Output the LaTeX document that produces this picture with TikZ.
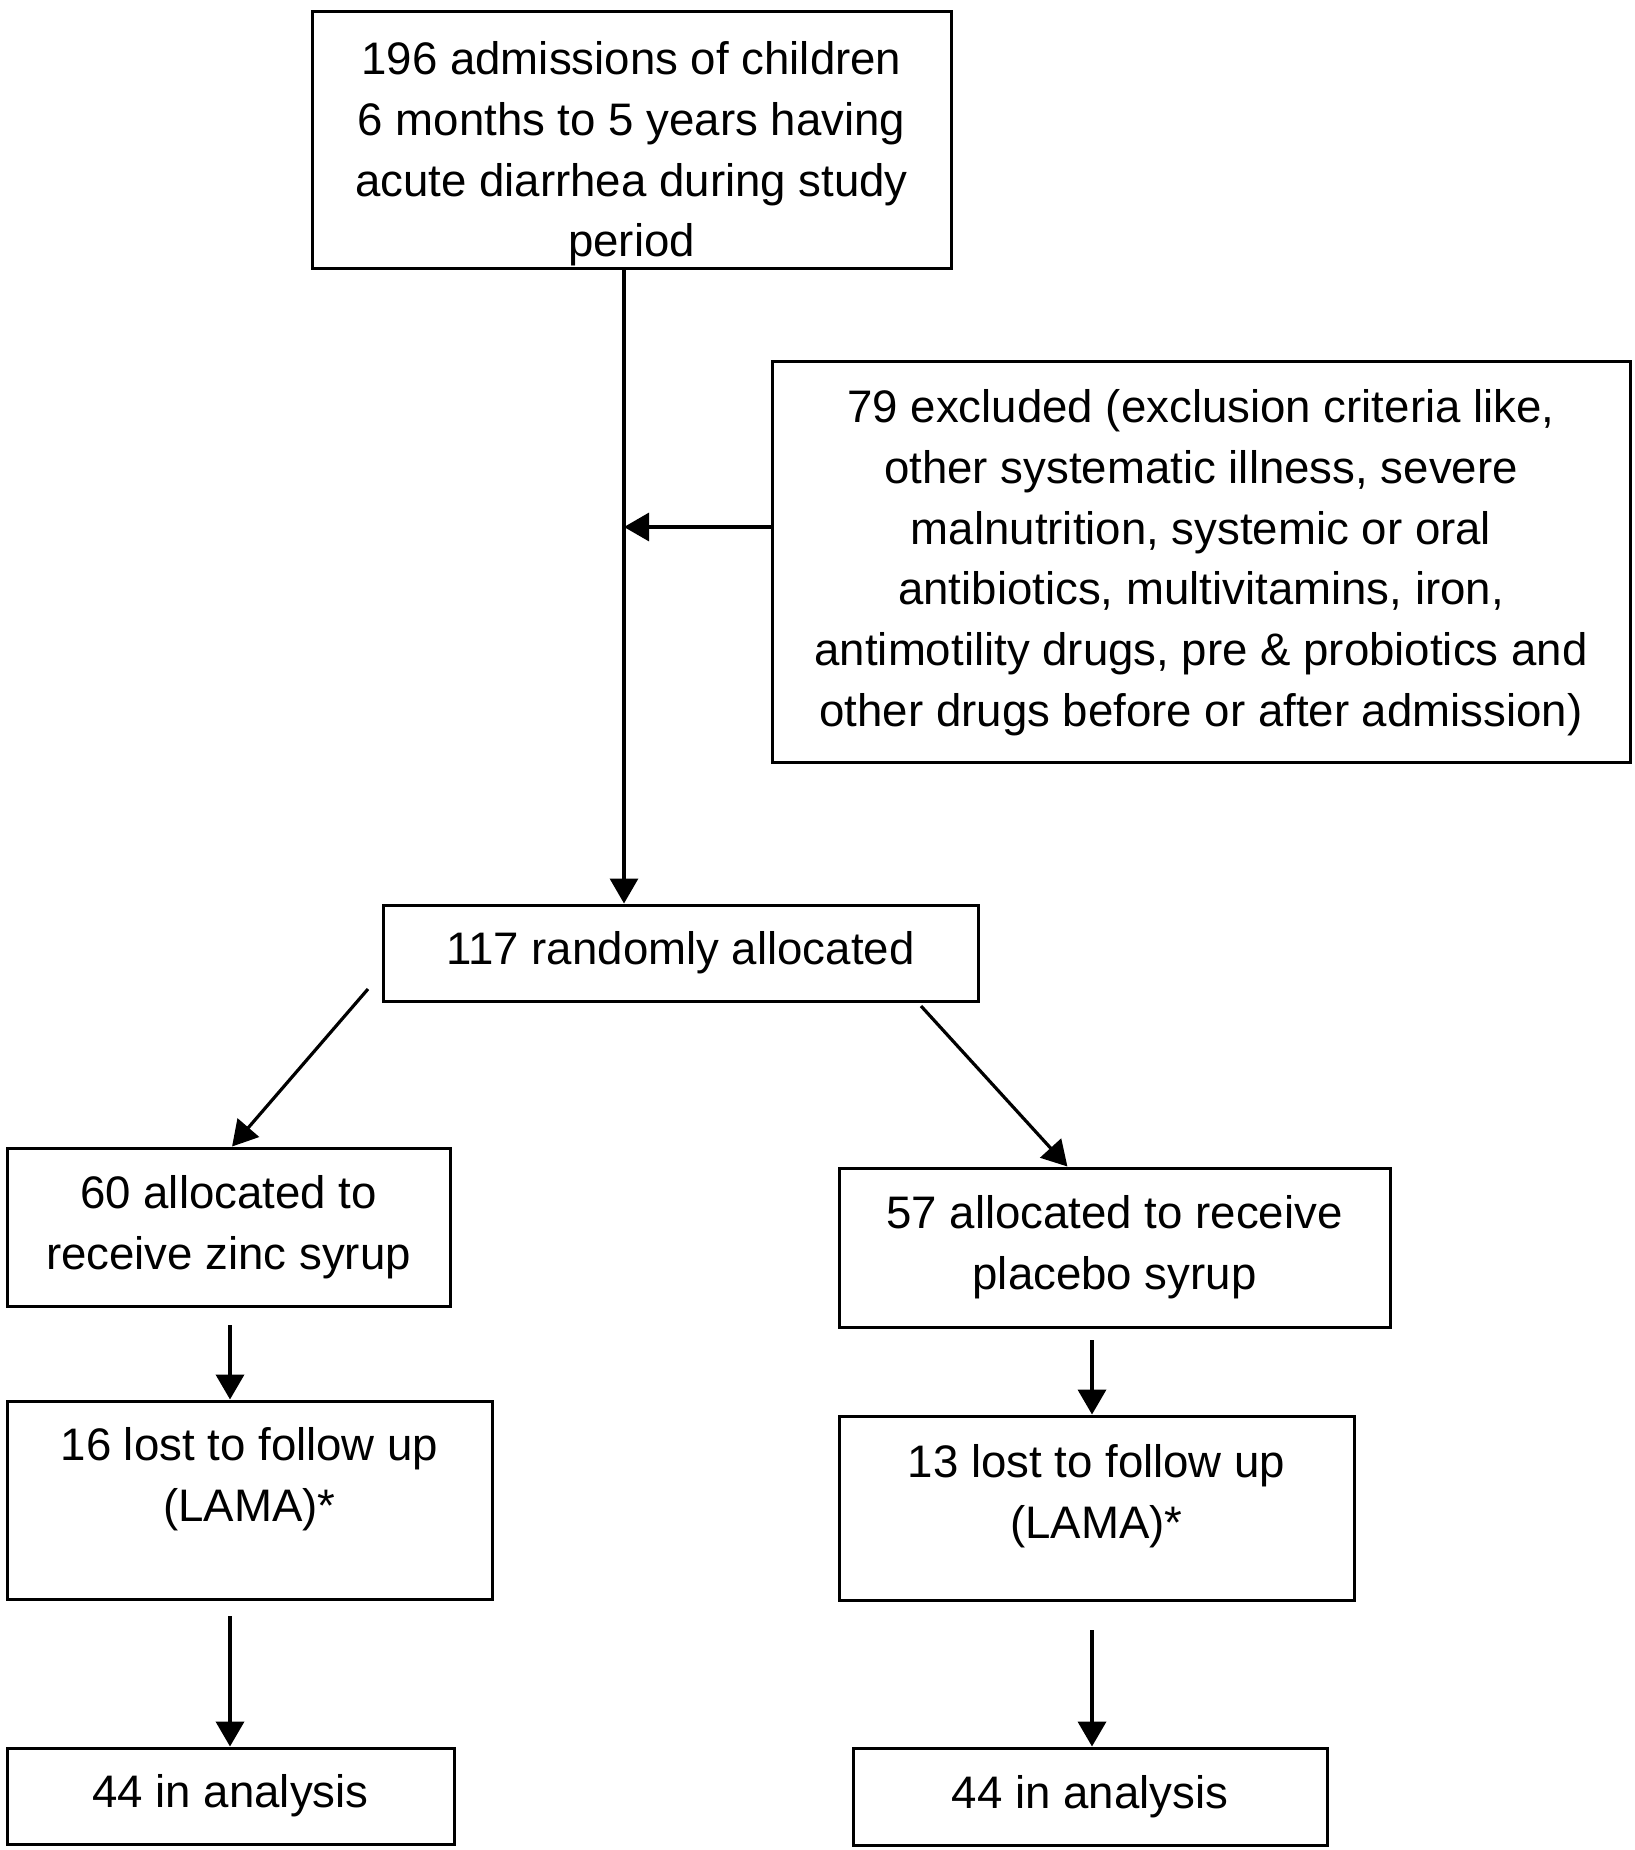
\documentclass[tikz,border=0pt]{standalone}
\usepackage{fontspec}
\setmainfont{Liberation Sans}
\usetikzlibrary{arrows.meta,calc}
\tikzset{
  box/.style={draw, line width=1.5pt, rectangle, inner sep=0pt, align=center,
    font=\fontsize{22.8pt}{30.4pt}\selectfont},
  txt/.style={inner sep=0pt, align=center, font=\fontsize{22.8pt}{30.4pt}\selectfont},
  conn/.style={line width=1.6pt, -{Triangle[length=12.5pt,width=14pt]}},
  connb/.style={line width=1.9pt, -{Triangle[length=12.5pt,width=14pt]}},
}
\begin{document}
\begin{tikzpicture}[x=0.5pt,y=-0.5pt]
\useasboundingbox (0,0) rectangle (1634,1850);
\fill[white] (0,0) rectangle (1634,1850);

% boxes
\node[box, minimum width=319.5pt, minimum height=128.5pt] (top) at (631.5,140.5) {};
\node[txt, anchor=north] (toptxt) at (631.5,41) {196 admissions of children\\6 months to 5 years having\\acute diarrhea during study\\period};

\node[box, minimum width=429pt, minimum height=200pt] (excl) at (1201,562) {};
\node[txt, anchor=north] (excltxt) at (1201,389) {79 excluded (exclusion criteria like,\\other systematic illness, severe\\malnutrition, systemic or oral\\antibiotics, multivitamins, iron,\\antimotility drugs, pre \& probiotics and\\other drugs before or after admission)};

\node[box, minimum width=297.5pt, minimum height=48pt] (alloc) at (680.5,953) {117 randomly allocated};

\node[box, minimum width=221.5pt, minimum height=79pt] (zinc) at (228.5,1227) {60 allocated to\\receive zinc syrup};
\node[box, minimum width=275.5pt, minimum height=79.5pt] (placebo) at (1114.5,1247.5) {57 allocated to receive\\placebo syrup};

\node[box, minimum width=242.5pt, minimum height=99pt] (lost1) at (249.5,1500) {};
\node[txt, anchor=north] (lost1txt) at (249.5,1427) {16 lost to follow up\\(LAMA)*};
\node[box, minimum width=257.5pt, minimum height=92pt] (lost2) at (1096.5,1508) {};
\node[txt, anchor=north] (lost2txt) at (1096.5,1444) {13 lost to follow up\\(LAMA)*};

\node[box, minimum width=223.5pt, minimum height=48pt] (an1) at (230.5,1796) {44 in analysis};
\node[box, minimum width=237pt, minimum height=48.5pt] (an2) at (1090,1796.5) {44 in analysis};

% connectors
\coordinate (mx) at (624,0);
\coordinate (j) at (624,527);
\draw[conn] (top.south -| mx) -- (alloc.north -| mx);
\draw[conn] (excl.west |- j) -- (j);

\coordinate (dl) at (368,989);
\coordinate (dr) at (921,1006);
\draw[conn] (dl) -- ($(zinc.north west)!0.508!(zinc.north east)$);
\draw[conn] (dr) -- ($(placebo.north west)!0.415!(placebo.north east)$);

\coordinate (a1) at (230,1325);
\coordinate (a2) at (230,1616);
\coordinate (a3) at (1092,1340);
\coordinate (a4) at (1092,1630);
\draw[connb] (a1) -- (lost1.north -| a1);
\draw[connb] (a2) -- (an1.north -| a2);
\draw[connb] (a3) -- (lost2.north -| a3);
\draw[connb] (a4) -- (an2.north -| a4);
\end{tikzpicture}
\end{document}
